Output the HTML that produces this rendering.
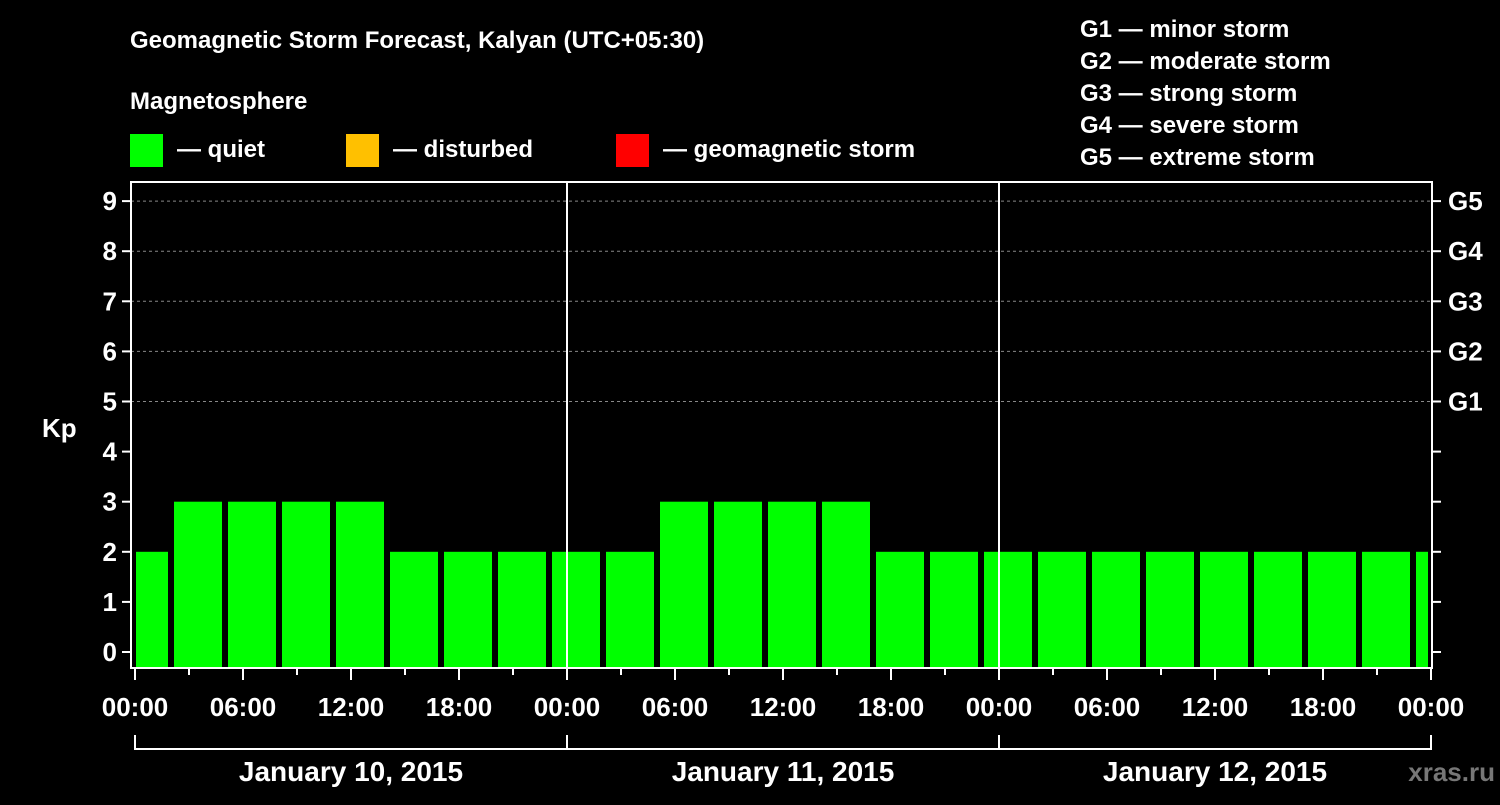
<!DOCTYPE html>
<html><head><meta charset="utf-8"><style>
body{margin:0;background:#000;width:1500px;height:800px;overflow:hidden}
svg text{font-family:"Liberation Sans",sans-serif;font-weight:bold;fill:#fff}
</style></head><body>
<svg id="c" width="1500" height="800">
<text x="130" y="48" font-size="24">Geomagnetic Storm Forecast, Kalyan (UTC+05:30)</text>
<text x="130" y="109" font-size="24">Magnetosphere</text>
<rect x="130" y="134" width="33" height="33" fill="#00ff00"/>
<text x="177" y="157" font-size="24">— quiet</text>
<rect x="346" y="134" width="33" height="33" fill="#ffc000"/>
<text x="393" y="157" font-size="24">— disturbed</text>
<rect x="616" y="134" width="33" height="33" fill="#ff0000"/>
<text x="663" y="157" font-size="24">— geomagnetic storm</text>
<g font-size="24">
<text x="1080" y="37">G1 — minor storm</text>
<text x="1080" y="69">G2 — moderate storm</text>
<text x="1080" y="101">G3 — strong storm</text>
<text x="1080" y="133">G4 — severe storm</text>
<text x="1080" y="165">G5 — extreme storm</text>
</g>
<text x="42" y="437" font-size="26">Kp</text>
<text x="1495" y="781" font-size="26" text-anchor="end" fill="#777" style="fill:#777">xras.ru</text>
<g id="g"></g>
</svg>
<script>
const values=[2,3,3,3,3,2,2,2,2,2,3,3,3,3,2,2,2,2,2,2,2,2,2,2,2];
const yTicks=[0,1,2,3,4,5,6,7,8,9];
const gLabels=["G1","G2","G3","G4","G5"];
const xLabels=["00:00","06:00","12:00","18:00","00:00","06:00","12:00","18:00","00:00","06:00","12:00","18:00","00:00"];
const days=["January 10, 2015","January 11, 2015","January 12, 2015"];
const L=131,R=1432,T=182,B=668,X0=135,PXH=18;
const y=v=>652-v*50.1, x=h=>X0+h*PXH;
const g=document.getElementById('g'),NS="http://www.w3.org/2000/svg";
function mk(t,a,txt){const e=document.createElementNS(NS,t);for(const k in a)e.setAttribute(k,a[k]);if(txt!=null)e.textContent=txt;g.appendChild(e);return e;}
// grid
yTicks.forEach(v=>{if(v>=5){const e=mk('line',{x1:L,x2:R,y1:y(v),y2:y(v),stroke:'#888','stroke-dasharray':'3,3','stroke-width':1});

}
const t=mk('line',{x1:L-9,x2:L,y1:y(v),y2:y(v),stroke:'#fff','stroke-width':2});


const r=mk('line',{x1:R,x2:R+9,y1:y(v),y2:y(v),stroke:'#fff','stroke-width':2});


const l=mk('text',{x:L-14,y:y(v)+9,'font-size':26,'text-anchor':'end'},v);

});
gLabels.forEach((s,i)=>{const l=mk('text',{x:1448,y:y(5+i)+9,'font-size':26},s);

});
// bars: first partial bin 0-2h then 3h bins
values.forEach((v,i)=>{let h0,h1;if(i===0){h0=0;h1=2;}else{h0=2+(i-1)*3;h1=Math.min(h0+3,72);}
let x0=x(h0)+(i===0?1:3),x1=Math.min(x(h1)-3,1428);
const b=mk('rect',{x:x0,y:y(v),width:x1-x0,height:B-y(v),fill:'#00ff00'});

});
// day separators
[1,2].forEach(d=>{const e=mk('line',{x1:x(d*24),x2:x(d*24),y1:T,y2:B,stroke:'#fff','stroke-width':2});

});
// frame
const f=mk('rect',{x:L,y:T,width:R-L,height:B-T,fill:'none',stroke:'#fff','stroke-width':2});


// x ticks
for(let h=0;h<=72;h+=3){const e=mk('line',{x1:x(h),x2:x(h),y1:B,y2:B+(h%6===0?12:7),stroke:'#fff','stroke-width':2});

}
xLabels.forEach((s,i)=>{const l=mk('text',{x:x(i*6),y:716,'font-size':26,'text-anchor':'middle'},s);

});
const br=mk('line',{x1:x(0),x2:x(72),y1:749,y2:749,stroke:'#fff','stroke-width':2});


for(let d=0;d<=3;d++){const e=mk('line',{x1:x(d*24),x2:x(d*24),y1:735,y2:750,stroke:'#fff','stroke-width':2});

}
days.forEach((s,i)=>{const l=mk('text',{x:x(i*24+12),y:781,'font-size':28,'text-anchor':'middle'},s);

});
</script>
</body></html>
